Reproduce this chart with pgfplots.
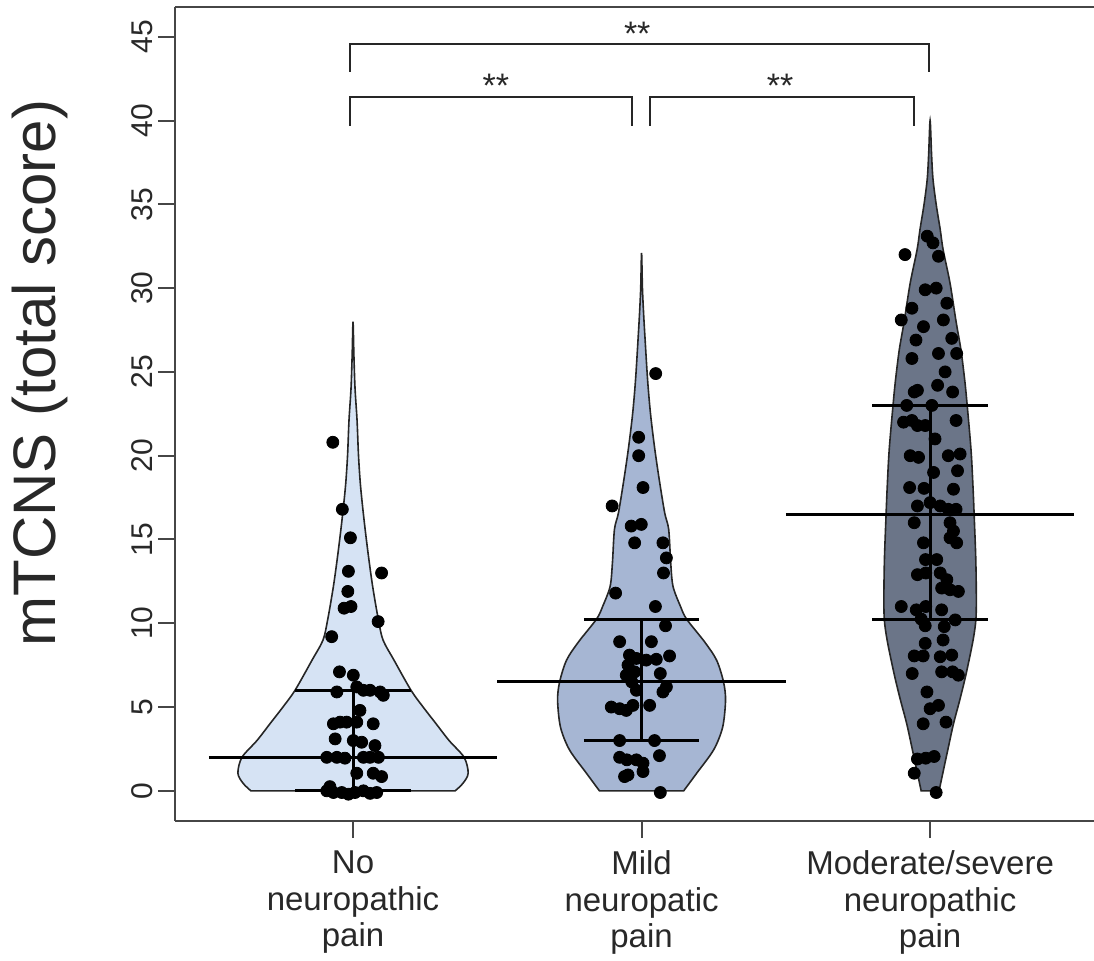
\documentclass[border=0pt]{standalone}
\usepackage{fontspec}
\setmainfont{Liberation Sans}
\usepackage{pgfplots}
\pgfplotsset{compat=1.18}
\definecolor{vioA}{RGB}{214,227,244}
\definecolor{vioB}{RGB}{166,182,211}
\definecolor{vioC}{RGB}{107,117,136}
\definecolor{frame}{RGB}{70,70,70}
\definecolor{txt}{RGB}{40,40,40}
\begin{document}
\begin{tikzpicture}
\useasboundingbox (0,0) rectangle (547pt,480pt);
\begin{axis}[
  at={(87.5pt,69.5pt)}, anchor=south west,
  scale only axis, width=459.5pt, height=407.2pt,
  xmin=0.383, xmax=3.568, ymin=-1.8, ymax=46.8,
  axis x line*=bottom, axis y line*=left,
  clip mode=individual,
  axis line style={frame, line width=1pt},
  tick style={frame, line width=1pt},
  tick align=outside, major tick length=8.5pt,
  xtick={1,2,3},
  xticklabels={{No\\neuropathic\\pain},{Mild\\neuropatic\\pain},{Moderate/severe\\neuropathic\\pain}},
  ytick={0,5,...,45},
  xticklabel shift=3pt, yticklabel shift=-1pt,
  xticklabel style={align=center, text=txt, font=\fontsize{16.5}{18.25}\selectfont},
  yticklabel style={rotate=90, anchor=south, text=txt, font=\fontsize{15}{18}\selectfont},
  /pgf/number format/assume math mode=true,
  ylabel={mTCNS (total score)},
  ylabel style={at={(axis description cs:-0.147,0.55)}, anchor=center, text=txt, font=\fontsize{30}{34}\selectfont},
]
% violins
\addplot[draw=black!85, line width=0.8pt, fill=vioA, smooth, tension=0.5] coordinates {
(1.354,0) (1.381,0.45) (1.399,1.05) (1.385,2) (1.333,3) (1.288,4) (1.243,5) (1.201,6) (1.142,7.8) (1.104,9) (1.088,10.2) (1.068,12.2) (1.052,14.2) (1.038,16.2) (1.026,18.2) (1.019,20) (1.014,22.1) (1.007,24) (1.003,26) (1,28)
(0.997,26) (0.993,24) (0.986,22.1) (0.981,20) (0.974,18.2) (0.962,16.2) (0.948,14.2) (0.932,12.2) (0.912,10.2) (0.896,9) (0.858,7.8) (0.799,6) (0.757,5) (0.712,4) (0.667,3) (0.615,2) (0.601,1.05) (0.619,0.45) (0.646,0)
} -- cycle;
\addplot[draw=black!85, line width=0.8pt, fill=vioB, smooth, tension=0.5] coordinates {
(2.146,0) (2.191,1.05) (2.250,2.45) (2.281,3.8) (2.291,5.4) (2.284,6.5) (2.260,7.8) (2.218,8.9) (2.156,10.25) (2.135,11.0) (2.109,12.2) (2.101,13.6) (2.094,15.6) (2.080,16.6) (2.061,18.6) (2.045,20.5) (2.031,22.5) (2.021,24.5) (2.012,27) (2.007,28.5) (2.003,30) (2,32.1)
(1.997,30) (1.993,28.5) (1.988,27) (1.979,24.5) (1.969,22.5) (1.955,20.5) (1.939,18.6) (1.920,16.6) (1.906,15.6) (1.899,13.6) (1.891,12.2) (1.865,11.0) (1.844,10.25) (1.782,8.9) (1.740,7.8) (1.716,6.5) (1.709,5.4) (1.719,3.8) (1.750,2.45) (1.809,1.05) (1.854,0)
} -- cycle;
\addplot[draw=black!85, line width=0.8pt, fill=vioC, smooth, tension=0.5] coordinates {
(3.031,0) (3.052,1.7) (3.062,2.5) (3.081,4) (3.104,5.5) (3.125,7) (3.149,9) (3.159,10.3) (3.160,12) (3.158,14) (3.153,16.3) (3.149,18) (3.142,20.3) (3.128,23.1) (3.120,24.5) (3.107,26.3) (3.090,28) (3.069,30.3) (3.045,32.3) (3.035,33.5) (3.021,35) (3.010,36.5) (3.005,38) (3,40)
(2.995,38) (2.990,36.5) (2.979,35) (2.965,33.5) (2.955,32.3) (2.931,30.3) (2.910,28) (2.893,26.3) (2.880,24.5) (2.872,23.1) (2.858,20.3) (2.851,18) (2.847,16.3) (2.842,14) (2.840,12) (2.841,10.3) (2.851,9) (2.875,7) (2.896,5.5) (2.919,4) (2.938,2.5) (2.948,1.7) (2.969,0)
} -- cycle;
% medians and quartiles
\addplot[black, line width=1.5pt] coordinates {(0.5,2) (1.5,2)};
\addplot[black, line width=1.5pt] coordinates {(0.8,6) (1.2,6)};
\addplot[black, line width=1.5pt] coordinates {(0.8,0) (1.2,0)};
\addplot[black, line width=1.5pt] coordinates {(1,0) (1,6)};
\addplot[black, line width=1.5pt] coordinates {(1.5,6.5) (2.5,6.5)};
\addplot[black, line width=1.5pt] coordinates {(1.8,10.25) (2.2,10.25)};
\addplot[black, line width=1.5pt] coordinates {(1.8,3) (2.2,3)};
\addplot[black, line width=1.5pt] coordinates {(2,3) (2,10.25)};
\addplot[black, line width=1.5pt] coordinates {(2.5,16.5) (3.5,16.5)};
\addplot[black, line width=1.5pt] coordinates {(2.8,23) (3.2,23)};
\addplot[black, line width=1.5pt] coordinates {(2.8,10.25) (3.2,10.25)};
\addplot[black, line width=1.5pt] coordinates {(3,10.25) (3,23)};
% points
\addplot[only marks, mark=*, mark size=3pt, black] coordinates {
(0.930,20.8) (0.963,16.8) (0.991,15.1) (0.984,13.1) (1.099,13.0) (0.982,11.9) (0.969,10.9) (0.993,11.0) (1.087,10.1) (0.926,9.2)
(0.953,7.1) (1.001,6.9) (0.944,5.9) (1.013,6.2) (1.036,6.0) (1.059,6.0) (1.094,5.9) (1.105,5.7) (1.024,4.8)
(0.932,4.0) (0.955,4.1) (0.978,4.1) (1.013,4.1) (1.070,4.0) (0.938,3.1) (1.001,3.0) (1.030,2.9) (1.076,2.7)
(0.909,2.0) (0.944,2.0) (0.972,1.95) (1.036,2.0) (1.059,2.0) (1.088,2.0) (1.013,1.05) (1.070,1.05) (1.099,0.85)
(0.920,0.25) (0.909,0) (0.932,-0.1) (0.961,-0.1) (0.984,-0.2) (1.007,-0.1) (1.036,0) (1.059,-0.15) (1.082,-0.1)
};
\addplot[only marks, mark=*, mark size=3pt, black] coordinates {
(2.049,24.9) (1.990,21.1) (1.990,20.0) (2.005,18.1) (1.898,17.0) (1.964,15.8) (1.999,15.9) (1.976,14.8) (2.074,14.8)
(2.086,13.9) (2.076,13.0) (1.910,11.8) (2.048,11.0) (2.083,9.85) (1.924,8.9) (2.034,8.9) (1.958,8.1) (1.982,7.9)
(2.016,7.8) (2.051,7.85) (2.097,8.05) (1.953,7.5) (1.947,6.9) (1.976,7.1) (2.065,7.0) (1.966,6.5) (2.086,6.2)
(2.074,5.9) (1.982,6.0) (1.895,5.0) (1.924,4.9) (1.947,4.8) (1.970,5.1) (2.028,5.1) (1.924,3.0) (2.045,3.0)
(1.924,2.0) (1.949,1.85) (1.982,1.85) (2.005,1.65) (2.062,2.1) (1.953,0.95) (2.005,1.15) (1.941,0.85) (2.065,-0.1)
};
\addplot[only marks, mark=*, mark size=3pt, black] coordinates {
(2.990,33.1) (3.010,32.7) (2.913,32.0) (3.029,31.9) (2.983,29.9) (3.021,30.0) (3.058,29.1) (2.937,28.8) (2.900,28.1)
(3.046,28.1) (2.977,27.7) (3.075,27.0) (2.951,26.9) (3.092,26.1) (3.029,26.1) (2.937,25.8) (3.052,25.0) (3.026,24.2)
(2.945,23.8) (2.956,23.9) (3.078,23.8) (2.919,23.0) (3.006,23.0) (2.908,22.0) (2.937,22.1) (2.956,21.8) (2.983,21.8)
(3.090,22.1) (3.017,21.0) (2.931,20.0) (2.960,19.9) (3.063,20.0) (3.104,20.1) (3.012,19.0) (3.095,19.1) (2.929,18.1)
(2.979,18.05) (3.081,18.0) (2.956,17.0) (3.000,17.2) (3.035,17.0) (3.063,16.8) (3.090,16.8) (2.945,16.0) (3.069,16.0)
(3.081,15.5) (2.977,14.8) (3.069,15.1) (3.092,14.8) (2.984,13.8) (3.023,13.8) (2.956,12.9) (2.985,13.0) (3.035,13.0)
(3.058,12.6) (3.040,12.1) (3.069,12.0) (3.098,11.9) (2.900,11.0) (2.952,10.8) (2.985,11.0) (3.040,10.8) (2.969,10.25)
(2.983,9.85) (3.049,9.8) (3.087,10.2) (3.045,9.0) (2.983,8.8) (2.945,8.05) (2.976,8.05) (3.035,8.0) (3.075,8.1)
(2.938,7.0) (3.040,7.1) (3.078,7.1) (3.098,6.9) (2.989,5.9) (3.000,4.9) (3.029,5.1) (2.976,4.0) (3.055,4.1)
(2.956,1.9) (2.985,1.95) (3.014,2.05) (2.945,1.05) (3.021,-0.1)
};
% top border of the box (right side falls outside the picture)
\draw[frame, line width=1pt] (rel axis cs:0,1) -- (rel axis cs:1,1);
% significance brackets
\draw[black!85, line width=1pt] (axis cs:0.99,42.9) -- (axis cs:0.99,44.55) -- (axis cs:2.995,44.55) -- (axis cs:2.995,42.9);
\draw[black!85, line width=1pt] (axis cs:0.99,39.7) -- (axis cs:0.99,41.4) -- (axis cs:1.967,41.4) -- (axis cs:1.967,39.7);
\draw[black!85, line width=1pt] (axis cs:2.03,39.7) -- (axis cs:2.03,41.4) -- (axis cs:2.945,41.4) -- (axis cs:2.945,39.7);
\node[anchor=base, text=txt, font=\fontsize{17}{18}\selectfont, inner sep=0pt] at (axis cs:1.985,44.45) {**};
\node[anchor=base, text=txt, font=\fontsize{17}{18}\selectfont, inner sep=0pt] at (axis cs:1.495,41.35) {**};
\node[anchor=base, text=txt, font=\fontsize{17}{18}\selectfont, inner sep=0pt] at (axis cs:2.48,41.35) {**};
\end{axis}
\end{tikzpicture}
\end{document}
